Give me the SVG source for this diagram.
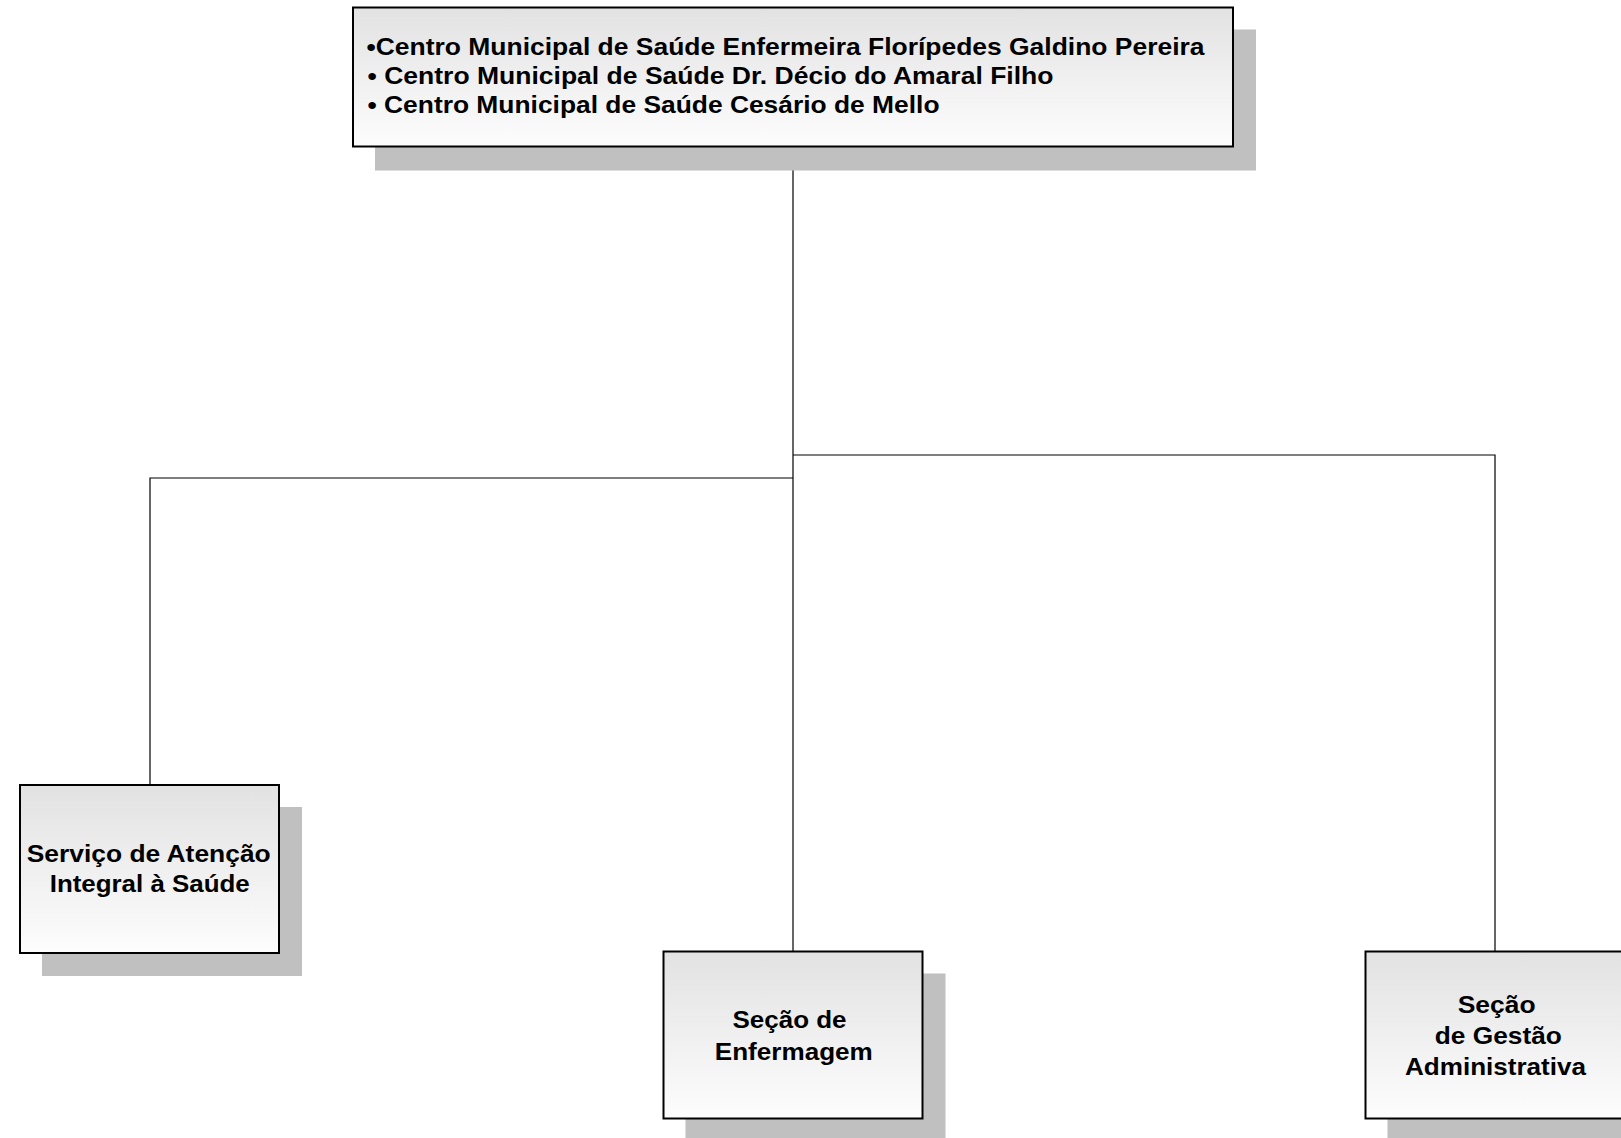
<svg xmlns="http://www.w3.org/2000/svg" width="1621" height="1138" viewBox="0 0 1621 1138">
<defs>
<linearGradient id="g" x1="0" y1="0" x2="0" y2="1">
<stop offset="0" stop-color="#e2e2e2"/>
<stop offset="1" stop-color="#fdfdfd"/>
</linearGradient>
<style>
.shadow{fill:#c0c0c0;stroke:none}
.box{fill:url(#g);stroke:#000;stroke-width:2}
.t{font-family:"Liberation Sans",Arial,sans-serif;font-weight:bold;font-size:24px;fill:#000}
.c{text-anchor:middle}
.conn{fill:none;stroke:#000;stroke-width:1.2}
</style>
</defs>
<rect width="1621" height="1138" fill="#fff"/>
<g id="connectors">
<path class="conn" d="M793,147 V952"/>
<path class="conn" d="M793,455 H1495 V952"/>
<path class="conn" d="M793,478 H150 V785"/>
</g>
<g id="top">
<rect class="shadow" x="375" y="29.5" width="881" height="141"/>
<rect class="box" x="353" y="7.5" width="880" height="139"/>
<text class="t" x="366.5" y="55" textLength="838" lengthAdjust="spacingAndGlyphs">•Centro Municipal de Saúde Enfermeira Florípedes Galdino Pereira</text>
<text class="t" x="367.5" y="84" textLength="686" lengthAdjust="spacingAndGlyphs">• Centro Municipal de Saúde Dr. Décio do Amaral Filho</text>
<text class="t" x="367.5" y="113" textLength="572" lengthAdjust="spacingAndGlyphs">• Centro Municipal de Saúde Cesário de Mello</text>
</g>
<g id="saude">
<rect class="shadow" x="42" y="807" width="260" height="169"/>
<rect class="box" x="20" y="785" width="259" height="168"/>
<text class="t c" x="148.7" y="862" textLength="244" lengthAdjust="spacingAndGlyphs">Serviço de Atenção</text>
<text class="t c" x="149.7" y="892" textLength="200" lengthAdjust="spacingAndGlyphs">Integral à Saúde</text>
</g>
<g id="enfermagem">
<rect class="shadow" x="685.5" y="973.5" width="260" height="170"/>
<rect class="box" x="663.5" y="951.5" width="259" height="167"/>
<text class="t c" x="789.5" y="1028" textLength="114" lengthAdjust="spacingAndGlyphs">Seção de</text>
<text class="t c" x="793.8" y="1060" textLength="158" lengthAdjust="spacingAndGlyphs">Enfermagem</text>
</g>
<g id="gestao">
<rect class="shadow" x="1387.5" y="973.5" width="260" height="170"/>
<rect class="box" x="1365.5" y="951.5" width="259" height="167"/>
<text class="t c" x="1496.7" y="1013" textLength="78" lengthAdjust="spacingAndGlyphs">Seção</text>
<text class="t c" x="1498.3" y="1044" textLength="127" lengthAdjust="spacingAndGlyphs">de Gestão</text>
<text class="t c" x="1495.5" y="1075" textLength="181" lengthAdjust="spacingAndGlyphs">Administrativa</text>
</g>
</svg>
